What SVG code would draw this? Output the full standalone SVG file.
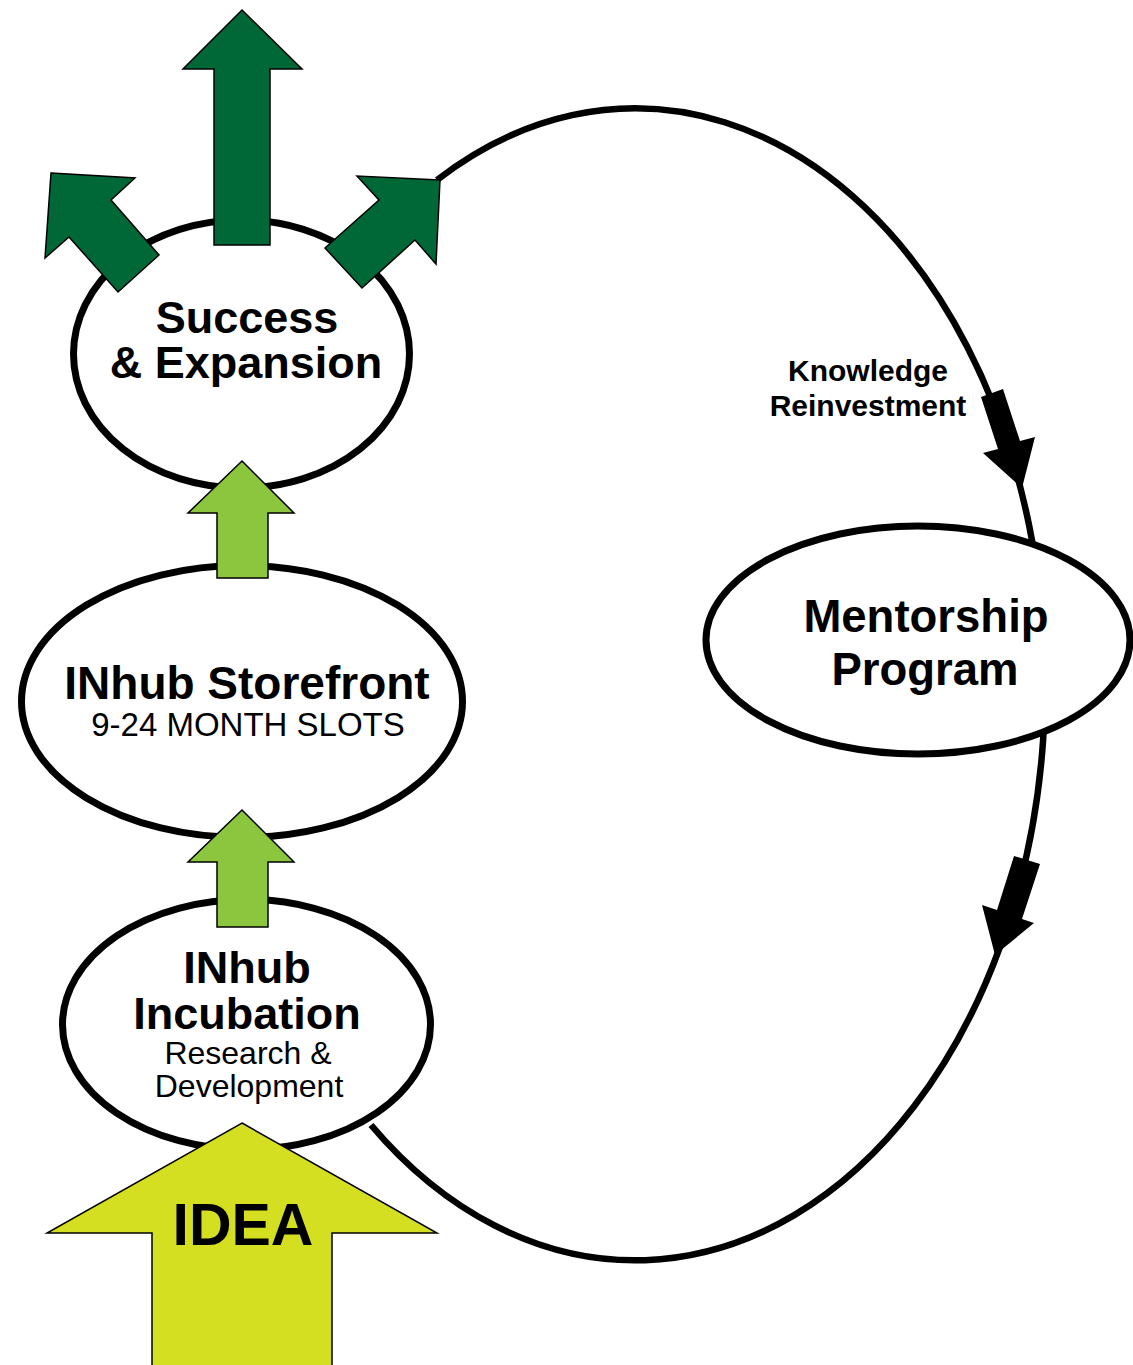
<svg xmlns="http://www.w3.org/2000/svg" width="1133" height="1365" viewBox="0 0 1133 1365">
<style>
.node{fill:#fff;stroke:#000;stroke-width:7}
.loop{fill:none;stroke:#000;stroke-width:6.5}
.dg{fill:#006837;stroke:#000;stroke-width:1.5}
.lg{fill:#8CC63F;stroke:#000;stroke-width:1.5}
.yg{fill:#D5DF21;stroke:#000;stroke-width:1.5}
.b{font-family:"Liberation Sans",Arial,sans-serif;font-weight:bold;fill:#000;text-anchor:middle}
.r{font-family:"Liberation Sans",Arial,sans-serif;font-weight:normal;fill:#000;text-anchor:middle}
</style>
<rect width="1133" height="1365" fill="#fff"/>
<g id="connectors">
<path class="loop" d="M 437 180 A 410 576 0 1 1 371 1125"/>
<polygon fill="#000" points="981,397 1003,389 1020,441 1035,437 1022,488 983,453 998,449"/>
<polygon fill="#000" points="1014,856 1040,864 1022,919 1034,923 995,955 982,905 997,910"/>
</g>
<g id="mentorship">
<ellipse class="node" cx="918" cy="640" rx="212" ry="114"/>
<text class="b" x="926" y="632" font-size="45.5">Mentorship</text>
<text class="b" x="925" y="685" font-size="45.5">Program</text>
</g>
<g id="knowledge-label">
<text class="b" x="868" y="381" font-size="30">Knowledge</text>
<text class="b" x="868" y="416" font-size="30">Reinvestment</text>
</g>
<g id="success">
<ellipse class="node" cx="241.5" cy="354" rx="168" ry="134"/>
<text class="b" x="247" y="333" font-size="45">Success</text>
<text class="b" x="246" y="378" font-size="45">&amp; Expansion</text>
</g>
<g id="storefront">
<ellipse class="node" cx="242" cy="701.5" rx="220.5" ry="136"/>
<text class="b" x="247" y="699" font-size="46">INhub Storefront</text>
<text class="r" x="248" y="736" font-size="33">9-24 MONTH SLOTS</text>
</g>
<g id="incubation">
<ellipse class="node" cx="246.5" cy="1024.5" rx="184" ry="125"/>
<text class="b" x="247" y="983" font-size="45">INhub</text>
<text class="b" x="247" y="1029" font-size="45">Incubation</text>
<text class="r" x="248" y="1064" font-size="32">Research &amp;</text>
<text class="r" x="249" y="1097" font-size="32">Development</text>
</g>
<g id="growth-arrows">
<polygon class="dg" points="242,10 302,69 270,69 270,245 214,245 214,69 183,69"/>
<polygon class="dg" points="51,173 135,178 111,200 159,255 118,292 69,237 45,258"/>
<polygon class="dg" points="440,180 357,176 379,200 325,248 362,288 415,240 436,264"/>
</g>
<g id="step-arrows">
<polygon class="lg" points="242,461 294,513 268,513 268,578 217,578 217,513 188,513"/>
<polygon class="lg" points="242,810 294,862 268,862 268,927 217,927 217,862 188,862"/>
</g>
<g id="idea">
<polygon class="yg" points="242,1123 437,1233 332,1233 332,1368 152,1368 152,1233 47,1233"/>
<text class="b" x="243" y="1245" font-size="59">IDEA</text>
</g>
</svg>
